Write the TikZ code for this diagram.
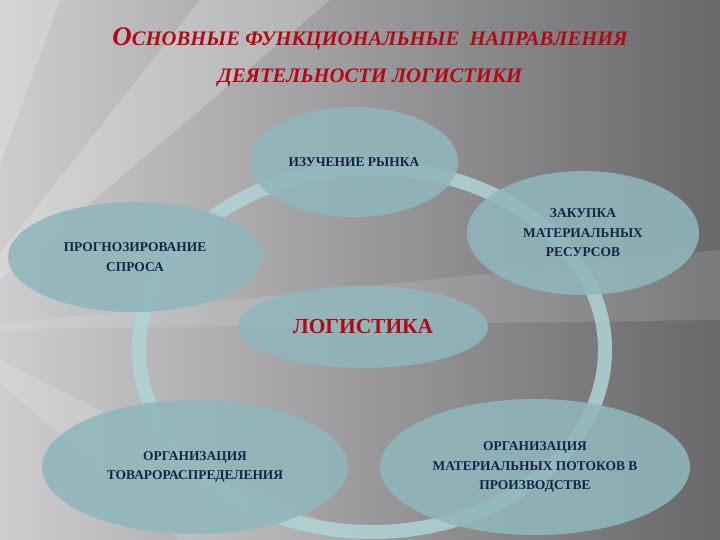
\documentclass[tikz,border=0pt]{standalone}
\usepackage{fontspec}
\setmainfont{Liberation Serif}
\usetikzlibrary{shapes.geometric}

\definecolor{bgdark}{RGB}{104,104,106}
\definecolor{bglight}{RGB}{205,205,207}
\definecolor{ovalfill}{RGB}{144,183,188}
\definecolor{ringcol}{RGB}{176,212,214}
\definecolor{navy}{RGB}{20,36,72}
\definecolor{titlered}{RGB}{178,8,20}

\begin{document}
\begin{tikzpicture}[
    x=1bp,y=-1bp,
    oval/.style={ellipse,fill=ovalfill,fill opacity=.88,text opacity=1,inner sep=0pt,align=center,
        font=\fontsize{13.5}{19.5}\selectfont\bfseries,text=navy}, % light teal ovals
    ray/.style={white,opacity=.2}
]
\useasboundingbox (0,0) rectangle (720,540);
\clip (0,0) rectangle (720,540);
% Background
\shade[left color=bglight,right color=bgdark] (0,0) rectangle (720,540);
\fill[ray] (-60,330) -- (330,0) -- (200,0) -- cycle;
\fill[ray,opacity=.12] (-60,330) -- (720,250) -- (720,320) -- cycle;
\fill[ray,opacity=.15] (-60,330) -- (360,540) -- (180,540) -- cycle;
\fill[ray,opacity=.18] (-60,330) -- (0,0) -- (60,0) -- cycle;

% Title
\node[align=center,text=titlered,font=\fontsize{20.7}{37}\selectfont\bfseries\itshape] (title) at (370,57)
    {{\fontsize{27}{37}\selectfont О}СНОВНЫЕ ФУНКЦИОНАЛЬНЫЕ \ НАПРАВЛЕНИЯ\\ДЕЯТЕЛЬНОСТИ ЛОГИСТИКИ};

% Ring
\draw[ringcol,line width=14bp,opacity=.85] (372,350) ellipse [x radius=233,y radius=182];

% Ovals
\node[oval,minimum width=208bp,minimum height=110bp] (rynok) at (354,162) {ИЗУЧЕНИЕ РЫНКА};
\node[oval,minimum width=232bp,minimum height=124bp] (zakupka) at (583,233) {ЗАКУПКА\\МАТЕРИАЛЬНЫХ\\РЕСУРСОВ};
\node[oval,minimum width=254bp,minimum height=110bp] (prognoz) at (135,257) {ПРОГНОЗИРОВАНИЕ\\СПРОСА};
\node[oval,minimum width=250bp,minimum height=82bp,text=titlered,font=\fontsize{21.5}{24}\selectfont\bfseries] (logistika) at (363,327) {ЛОГИСТИКА};
\node[oval,minimum width=306bp,minimum height=134bp] (tovar) at (195,467) {ОРГАНИЗАЦИЯ\\ТОВАРОРАСПРЕДЕЛЕНИЯ};
\node[oval,minimum width=310bp,minimum height=136bp] (potok) at (535,467) {ОРГАНИЗАЦИЯ\\МАТЕРИАЛЬНЫХ ПОТОКОВ В\\ПРОИЗВОДСТВЕ};

\end{tikzpicture}
\end{document}
